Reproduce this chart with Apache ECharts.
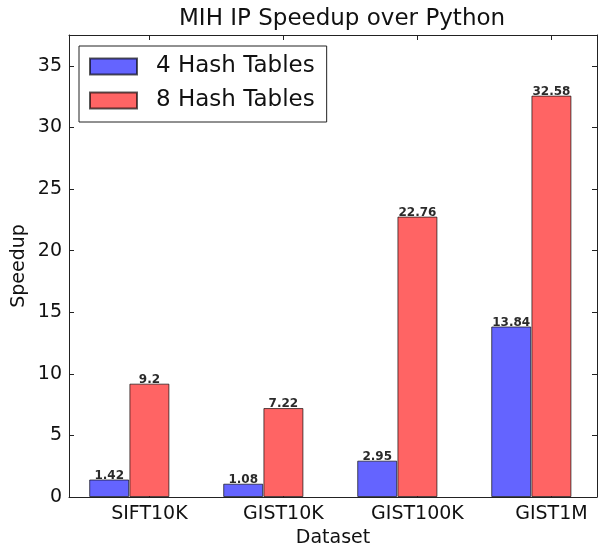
<!DOCTYPE html>
<html>
<head>
<meta charset="utf-8">
<title>MIH IP Speedup over Python</title>
<script src="https://cdn.jsdelivr.net/npm/echarts@6/dist/echarts.min.js"></script>
<style>
  html, body { margin: 0; padding: 0; background: #fff; }
  #chart { width: 598px; height: 554px; }
</style>
</head>
<body>
<div id="chart"></div>
<script>
// data
const datasets = ['SIFT10K', 'GIST10K', 'GIST100K', 'GIST1M'];
const hash4 = [1.42, 1.08, 2.95, 13.84];
const hash8 = [9.2, 7.22, 22.76, 32.58];
const seriesNames = ['4 Hash Tables', '8 Hash Tables'];
const yTicks = [0, 5, 10, 15, 20, 25, 30, 35];

const font = 'DejaVu Sans';
const barShift = 0.3; // blue bar sits one bar-width left of the tick

const chart = echarts.init(document.getElementById('chart'));

const xTickIdx = datasets.map((d, i) => i);

const tickStyle = {show: true, inside: true, length: 5, lineStyle: {color: '#222'}};
const lineStyle = {show: true, onZero: false, lineStyle: {color: '#222', width: 1}};

const labelStyle = {
    show: true,
    position: 'top',
    distance: -2,
    fontFamily: font,
    fontSize: 12,
    fontWeight: 'bold',
    color: '#2a2a2a'
};

chart.setOption({
    animation: false,
    title: {
        text: 'MIH IP Speedup over Python',
        left: 174,
        top: 3,
        textStyle: {fontFamily: font, fontSize: 23, fontWeight: 'normal', color: '#111'}
    },
    legend: {
        orient: 'vertical',
        left: 79,
        top: 46,
        padding: [9, 12, 10, 10],
        itemWidth: 47,
        itemHeight: 16,
        itemGap: 11,
        borderColor: '#222',
        borderWidth: 1,
        icon: 'rect',
        textStyle: {fontFamily: font, fontSize: 23, color: '#111', padding: [0, 0, 0, 14]},
        data: seriesNames
    },
    grid: {left: 69, right: 1, top: 35, bottom: 57},
    xAxis: [
        {
            type: 'value',
            position: 'bottom',
            min: -0.6,
            max: 3.34,
            splitLine: {show: false},
            axisLine: lineStyle,
            axisTick: Object.assign({customValues: xTickIdx}, tickStyle),
            axisLabel: {
                customValues: xTickIdx,
                formatter: v => datasets[Math.round(v)],
                fontFamily: font, fontSize: 19, color: '#111', margin: 8
            },
            name: 'Dataset',
            nameLocation: 'middle',
            nameGap: 31,
            nameTextStyle: {fontFamily: font, fontSize: 19, color: '#111'}
        },
        {
            type: 'value',
            position: 'top',
            min: -0.6,
            max: 3.34,
            splitLine: {show: false},
            axisLine: lineStyle,
            axisTick: Object.assign({customValues: xTickIdx}, tickStyle),
            axisLabel: {show: false}
        }
    ],
    yAxis: [
        {
            type: 'value',
            position: 'left',
            min: 0,
            max: 37.5,
            splitLine: {show: false},
            axisLine: lineStyle,
            axisTick: Object.assign({customValues: yTicks}, tickStyle),
            axisLabel: {
                customValues: yTicks,
                fontFamily: font, fontSize: 19, color: '#111', margin: 7
            },
            name: 'Speedup',
            nameLocation: 'middle',
            nameGap: 40,
            nameMoveOverlap: false,
            nameTextStyle: {fontFamily: font, fontSize: 19, color: '#111'}
        },
        {
            type: 'value',
            position: 'right',
            min: 0,
            max: 37.5,
            splitLine: {show: false},
            axisLine: lineStyle,
            axisTick: Object.assign({customValues: yTicks}, tickStyle),
            axisLabel: {show: false}
        }
    ],
    series: [
        {
            name: seriesNames[0],
            type: 'bar',
            barWidth: 40,
            barGap: '-100%',
            data: hash4.map((v, i) => [i - barShift, v]),
            itemStyle: {color: '#6464ff', borderColor: 'rgba(0,0,0,0.65)', borderWidth: 1},
            label: Object.assign({formatter: p => String(p.value[1])}, labelStyle)
        },
        {
            name: seriesNames[1],
            type: 'bar',
            barWidth: 40,
            barGap: '-100%',
            data: hash8.map((v, i) => [i, v]),
            itemStyle: {color: '#ff6464', borderColor: 'rgba(0,0,0,0.65)', borderWidth: 1},
            label: Object.assign({formatter: p => String(p.value[1])}, labelStyle)
        }
    ]
});
</script>
</body>
</html>
